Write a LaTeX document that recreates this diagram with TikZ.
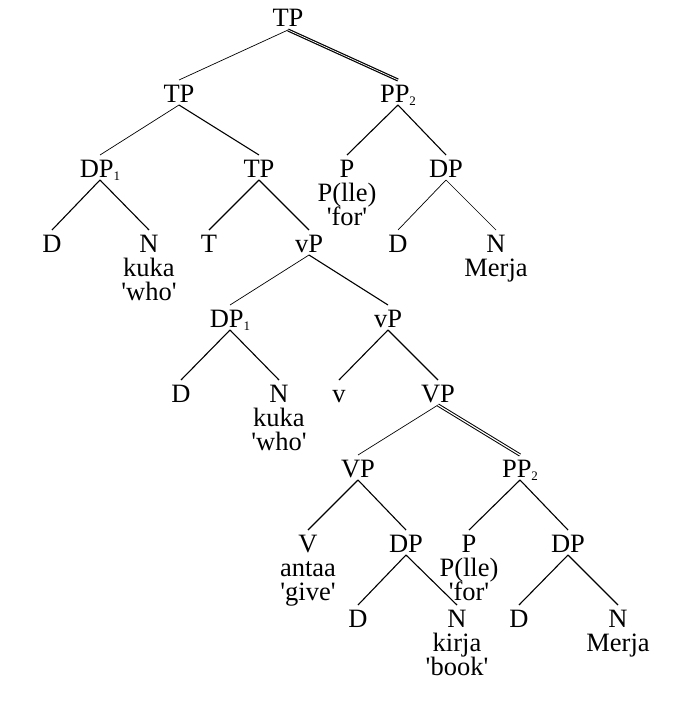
\documentclass[tikz,border=0pt]{standalone}
\usepackage{fontspec}
\setmainfont{Liberation Serif}
% small lowered index after a category label
\newcommand\idx[1]{\raisebox{-3pt}{\fontsize{13}{13}\selectfont #1}}
\newcommand\apos{\textquotesingle}
% centred lines, 24pt apart, baseline on the first line
\newcommand\stack[1]{\vtop{\baselineskip=24pt\lineskiplimit=-100pt
  \halign{\hfil##\hfil\cr#1\crcr}}}
\begin{document}
\begin{tikzpicture}[x=1pt,y=-1pt,
  cat/.style={anchor=base,inner sep=0pt,font=\fontsize{26.5}{24}\selectfont},
  branch/.style={line width=1.1pt},
  thinbranch/.style={line width=0.7pt},
  dbl/.style={double,line width=1pt,double distance=1.2pt},
  dblheavy/.style={double,line width=1.2pt,double distance=0.7pt}]
\useasboundingbox (0,0) rectangle (689,720);

% row 1
\node[cat] (tp) at (288,27) {TP};
% row 2
\node[cat] (tpL) at (179,102) {TP};
\node[cat] (ppA) at (398,102) {PP\idx{2}};
% row 3
\node[cat] (dpA) at (100,177) {DP\idx{1}};
\node[cat] (tpM) at (259,177) {TP};
\node[cat] (pA) at (347,177) {\stack{P\cr P(lle)\cr \apos for\apos}};
\node[cat] (dpB) at (446,177) {DP};
% row 4
\node[cat] (dA) at (52,252) {D};
\node[cat] (nA) at (149,252) {\stack{N\cr kuka\cr \apos who\apos}};
\node[cat] (tA) at (209,252) {T};
\node[cat] (vpA) at (309,252) {vP};
\node[cat] (dB) at (398,252) {D};
\node[cat] (nB) at (496,252) {\stack{N\cr Merja}};
% row 5
\node[cat] (dpC) at (230,327) {DP\idx{1}};
\node[cat] (vpB) at (388,327) {vP};
% row 6
\node[cat] (dC) at (181,402) {D};
\node[cat] (nC) at (279,402) {\stack{N\cr kuka\cr \apos who\apos}};
\node[cat] (vA) at (339,402) {v};
\node[cat] (VPA) at (438,402) {VP};
% row 7
\node[cat] (VPB) at (358,477) {VP};
\node[cat] (ppB) at (520,477) {PP\idx{2}};
% row 8
\node[cat] (VA) at (308,552) {\stack{V\cr antaa\cr \apos give\apos}};
\node[cat] (dpD) at (406,552) {DP};
\node[cat] (pB) at (469,552) {\stack{P\cr P(lle)\cr \apos for\apos}};
\node[cat] (dpE) at (568,552) {DP};
% row 9
\node[cat] (dD) at (358,627) {D};
\node[cat] (nD) at (457,627) {\stack{N\cr kirja\cr \apos book\apos}};
\node[cat] (dE) at (519,627) {D};
\node[cat] (nE) at (618,627) {\stack{N\cr Merja}};

% branches: parent / child / line style
\foreach \p/\c/\s in {
  tp/tpL/thinbranch, tp/ppA/dblheavy,
  tpL/dpA/thinbranch, tpL/tpM/branch,
  ppA/pA/branch, ppA/dpB/branch,
  dpA/dA/branch, dpA/nA/branch,
  tpM/tA/branch, tpM/vpA/branch,
  dpB/dB/thinbranch, dpB/nB/thinbranch,
  vpA/dpC/thinbranch, vpA/vpB/branch,
  dpC/dC/branch, dpC/nC/branch,
  vpB/vA/branch, vpB/VPA/branch,
  VPA/VPB/thinbranch, VPA/ppB/dbl,
  VPB/VA/branch, VPB/dpD/branch,
  ppB/pB/branch, ppB/dpE/branch,
  dpD/dD/branch, dpD/nD/branch,
  dpE/dE/branch, dpE/nE/branch}
  \draw[\s] ([yshift=-3pt]\p.base) -- ([yshift=22pt]\c.base);
\end{tikzpicture}
\end{document}
